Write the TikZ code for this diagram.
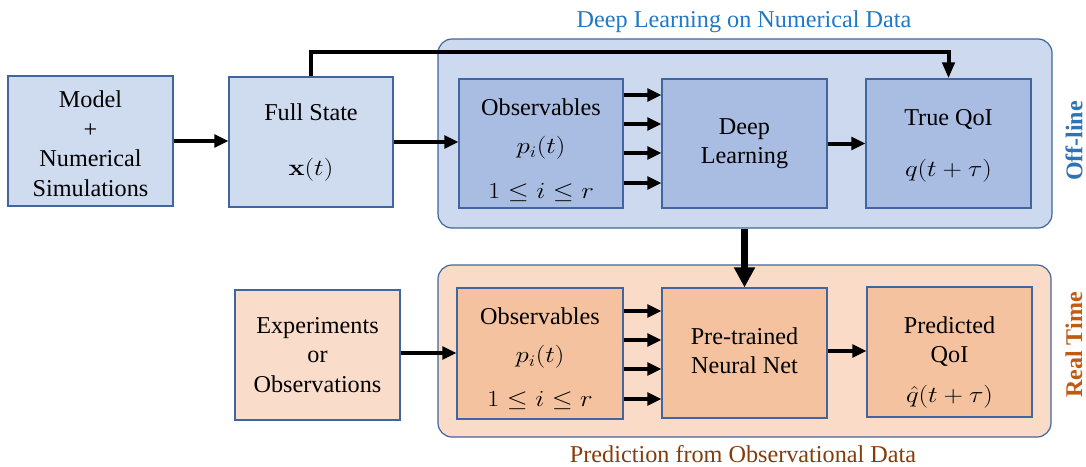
\RequirePackage{fix-cm}
\documentclass[tikz,border=0pt]{standalone}
\usepackage{graphicx}
\usepackage[no-math]{fontspec}
\setmainfont{Liberation Serif}
\usetikzlibrary{arrows.meta,calc}

\definecolor{bordc}{HTML}{41669F}
\definecolor{outerblue}{HTML}{CCD9EE}
\definecolor{innerblue}{HTML}{A9BDE3}
\definecolor{srcblue}{HTML}{CFDBEF}
\definecolor{outerorange}{HTML}{F9DBC8}
\definecolor{innerorange}{HTML}{F4C29E}
\definecolor{srcorange}{HTML}{F9DCC9}
\definecolor{titleblue}{HTML}{2179C4}
\definecolor{offblue}{HTML}{2E74B5}
\definecolor{titlebrown}{HTML}{843C0C}
\definecolor{rtorange}{HTML}{C45911}

\newcommand\mth[1]{{\fontsize{23}{28}\selectfont\scalebox{1.17}[1]{$#1$}}}

\begin{document}
\begin{tikzpicture}[x=1pt,y=-1pt,
  every node/.style={font=\fontsize{24.2}{29.5}\selectfont, inner sep=0pt},
  blk/.style={draw=bordc, line width=1.2pt, minimum width=165pt, minimum height=130pt, align=center},
  panel/.style={draw=bordc, line width=1.2pt, rounded corners=14pt},
  conn/.style={line width=4pt, -{Triangle[length=14pt,width=12.5pt]}},
  bypass/.style={line width=4pt, -{Triangle[length=16pt,width=12pt]}},
  bigdown/.style={line width=7pt, -{Triangle[length=20pt,width=20pt]}},
  sidelabel/.style={rotate=90, font=\fontsize{24}{29}\selectfont\bfseries},
]
\useasboundingbox (0,0) rectangle (1086,466);

% panels
\node[panel, fill=outerblue, minimum width=614pt, minimum height=189pt] (toppanel) at (745,133.5) {};
\node[panel, fill=outerorange, minimum width=613pt, minimum height=172pt] (botpanel) at (744.5,351) {};

% titles
\node[text=titleblue, anchor=base] (toptitle) at (744,27) {Deep Learning on Numerical Data};
\node[text=titlebrown, anchor=base] (bottitle) at (743,462) {Prediction from Observational Data};
\node[sidelabel, text=offblue] (offline) at (1074,141) {Off-line};
\node[sidelabel, text=rtorange] (realtime) at (1074,345) {Real Time};

% top row
\node[blk, fill=srcblue] (model) at (90.5,141) {\rule{0pt}{22pt}Model\\+\\Numerical\\Simulations};
\node[blk, fill=srcblue, minimum width=164pt] (full) at (311,142) {Full State\\[25.5pt]\mth{\mathbf{x}(t)}};
\node[blk, fill=innerblue, minimum width=164pt, minimum height=129pt] (obst) at (541,143.5)
  {\rule{0pt}{30pt}Observables\\[9pt]\mth{p_i(t)}\\[15pt]\mth{1\le i\le r}};
\node[blk, fill=innerblue, minimum height=129pt] (dl) at (744.5,143.5) {Deep\\Learning};
\node[blk, fill=innerblue, minimum height=129pt] (tq) at (948.5,143.5) {\rule{0pt}{19.8pt}True QoI\\[21.5pt]\mth{q(t+\tau)}};

% bottom row
\node[blk, fill=srcorange] (exp) at (317.5,355) {Experiments\\or\\Observations};
\node[blk, fill=innerorange, minimum width=166pt, minimum height=131pt] (obsb) at (540,353.5)
  {\rule{0pt}{27pt}Observables\\[9pt]\mth{p_i(t)}\\[14.5pt]\mth{1\le i\le r}};
\node[blk, fill=innerorange] (pt) at (744.5,353) {Pre-trained\\Neural Net\rule[-5pt]{0pt}{5pt}};
\node[blk, fill=innerorange] (pred) at (949.5,352) {\rule{0pt}{36.9pt}Predicted\\QoI\\[10pt]\mth{\hat{q}(t+\tau)}};

% connectors top
\draw[conn] (model.east) -- (model.east -| full.west);
\draw[conn] (full.east) -- (full.east -| obst.west);
\foreach \yy in {95,124,153,183}
  \draw[conn] (obst.east |- 0,\yy) -- (dl.west |- 0,\yy);
\draw[conn] (dl.east) -- (dl.east -| tq.west);
\draw[bypass] (full.north) -- (full.north |- 0,52) -| (tq.north);

% vertical transfer
\draw[bigdown] (dl.south |- toppanel.south) -- (pt.north);

% connectors bottom
\draw[conn] (exp.east |- 0,353) -- (obsb.west |- 0,353);
\foreach \yy in {311,340,369,399}
  \draw[conn] (obsb.east |- 0,\yy) -- (pt.west |- 0,\yy);
\draw[conn] (pt.east |- 0,351) -- (pred.west |- 0,351);
\end{tikzpicture}
\end{document}
